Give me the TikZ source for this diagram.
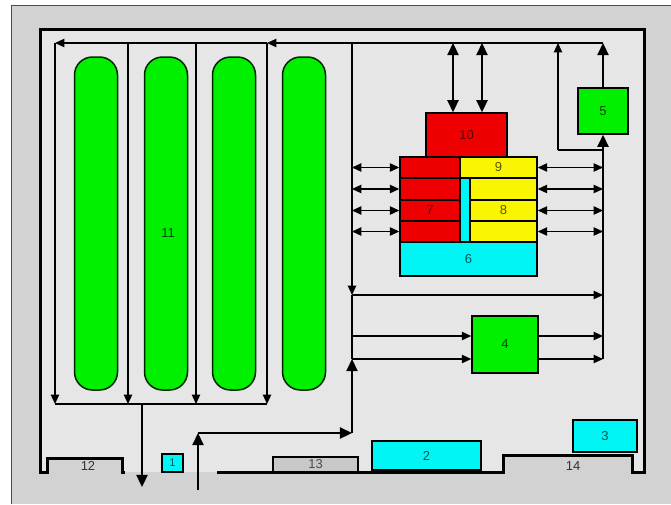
\documentclass[tikz,border=0pt]{standalone}
\usepackage{fontspec}
\setmainfont{Liberation Sans}
\usetikzlibrary{arrows.meta,positioning}

\definecolor{wallfill}{HTML}{E6E6E6}
\definecolor{outerfill}{HTML}{D2D2D2}
\definecolor{plantgreen}{HTML}{00F000}
\definecolor{plantred}{HTML}{EE0000}
\definecolor{plantyellow}{HTML}{FAF500}
\definecolor{plantcyan}{HTML}{00F5F5}
\definecolor{plantgrey}{HTML}{C8C8C8}

\begin{document}
\begin{tikzpicture}[x=1pt,y=-1pt,
    box/.style={draw, line width=1.5pt, inner sep=0pt, font=\fontsize{13}{15}\selectfont},
    pill/.style={draw=black!85!green, line width=1.5pt, fill=plantgreen, rounded corners=18pt, minimum width=43pt, minimum height=333pt, inner sep=0pt},
    lbl/.style={font=\fontsize{13}{15}\selectfont, text=black!80},
    arr/.style={-{Triangle[length=6pt 2.8,width=5pt 2.8]}, line width=1.2pt},
    dbl/.style={{Triangle[length=6pt 2.8,width=5pt 2.8]}-{Triangle[length=6pt 2.8,width=5pt 2.8]}, line width=1.2pt},
    thk/.style={line width=2.2pt},
    wall/.style={line width=3pt, line join=miter}
]
\useasboundingbox (0,0) rectangle (671,504);
\fill[outerfill] (11,5) rectangle (671,504);
\draw[line width=1pt, black!70] (11,504) -- (11,5) -- (671,5);
\fill[wallfill] (40,29) -- (644,29) -- (644,472) -- (632,472) -- (632,455) -- (503,455) -- (503,472)
    -- (122,472) -- (122,458) -- (47,458) -- (47,472) -- (40,472) -- cycle;
\draw[wall] (125,472) -- (122,472) -- (122,458) -- (47,458) -- (47,472) -- (40,472) -- (40,29)
    -- (644,29) -- (644,472) -- (632,472) -- (632,455) -- (503,455) -- (503,472) -- (217,472);

% tanks
\node[pill] (pill1) at (96,223.5) {};
\node[pill] (pill2) at (166,223.5) {};
\node[pill] (pill3) at (234,223.5) {};
\node[pill] (pill4) at (304,223.5) {};
\node[lbl, text=plantgreen!30!black] (lab11) at (168,233) {11};

% equipment
\node[box, fill=plantred, minimum width=81pt, minimum height=44pt, text=plantred!40!black] (ten) at (466.5,135) {10};
\node[box, fill=plantred, minimum width=60pt, minimum height=21pt] (red1) at (430,167.5) {};
\node[box, fill=plantred, minimum width=60pt, minimum height=22pt] (red2) at (430,189) {};
\node[box, fill=plantred, minimum width=60pt, minimum height=21pt, text=plantred!40!black] (red3) at (430,210.5) {7};
\node[box, fill=plantred, minimum width=60pt, minimum height=21pt] (red4) at (430,231.5) {};
\node[box, fill=plantyellow, minimum width=77pt, minimum height=21pt, text=plantyellow!35!black] (nine) at (498.5,167.5) {9};
\node[box, fill=plantcyan, minimum width=10pt, minimum height=64pt] (strip) at (465,210) {};
\node[box, fill=plantyellow, minimum width=67pt, minimum height=22pt] (yel2) at (503.5,189) {};
\node[box, fill=plantyellow, minimum width=67pt, minimum height=21pt, text=plantyellow!35!black] (yel3) at (503.5,210.5) {8};
\node[box, fill=plantyellow, minimum width=67pt, minimum height=21pt] (yel4) at (503.5,231.5) {};
\node[box, fill=plantcyan, minimum width=137pt, minimum height=34pt, text=plantcyan!35!black] (six) at (468.5,259) {6};
\node[box, fill=plantgreen, minimum width=50pt, minimum height=46pt, text=plantgreen!30!black] (five) at (603,111) {5};
\node[box, fill=plantgreen, minimum width=66pt, minimum height=57pt, text=plantgreen!30!black] (four) at (505,344.5) {4};
\node[box, fill=plantcyan, minimum width=64pt, minimum height=32pt, text=plantcyan!35!black] (three) at (605,436) {3};
\node[box, fill=plantcyan, minimum width=109pt, minimum height=29pt, text=plantcyan!35!black] (two) at (426.5,455.5) {2};
\node[box, fill=plantgrey, minimum width=85pt, minimum height=15pt, text=black!70] (thirteen) at (315.5,464.5) {13};
\node[box, fill=plantcyan, minimum width=21pt, minimum height=18pt, text=plantcyan!35!black, font=\fontsize{11}{12}\selectfont] (one) at (172.5,463) {1};
\node[lbl] (lab12) at (88,466) {12};
\node[lbl] (lab14) at (573,466) {14};

% flow lines
\coordinate (topR) at (603,43);
\coordinate (topM) at (267,43);
\coordinate (topL) at (55,43);
\coordinate (col2) at (128,43);
\coordinate (col3) at (196,43);
\coordinate (collL) at (55,404);
\coordinate (collR) at (267,404);
\coordinate (exitT) at (142,404);
\coordinate (exitB) at (142,487);
\coordinate (spineT) at (352,43);
\coordinate (spineM) at (352,295);
\coordinate (in4) at (352,336);
\coordinate (spineL) at (352,359);
\coordinate (spineB) at (352,433);
\coordinate (gateIn) at (198,490);
\coordinate (gateC) at (198,433);
\coordinate (riserB) at (603,359);
\coordinate (branch) at (603,150);
\coordinate (branchC) at (558,150);
\coordinate (branchT) at (558,43);
\coordinate (lift1) at (453,43);
\coordinate (lift2) at (482,43);

\draw[arr] (topR) -- (topM);
\draw[arr] (topM) -- (topL);
\draw[arr] (topL) -- (collL);
\draw[arr] (col2) -- (col2 |- collL);
\draw[arr] (col3) -- (col3 |- collL);
\draw[arr] (topM) -- (collR);
\draw[line width=1.2pt] (collL) -- (collR);
\draw[arr,thk] (exitT) -- (exitB);

\draw[arr] (spineT) -- (spineM);
\draw[line width=1.2pt] (spineM) -- (spineL);
\draw[arr,thk] (gateIn) -- (gateC);
\draw[arr,thk] (gateC) -- (spineB);
\draw[arr,thk] (spineB) -- (spineL);

\draw[arr] (spineM) -- (spineM -| riserB);
\draw[arr] (in4) -- (in4 -| four.west);
\draw[arr] (spineL) -- (spineL -| four.west);
\draw[arr] (four.east |- in4) -- (in4 -| riserB);
\draw[arr] (four.east |- spineL) -- (riserB);
\draw[arr,thk] (riserB) -- (five.south);
\draw[arr,thk] (five.north) -- (topR);
\draw[line width=1.2pt] (branch) -- (branchC);
\draw[arr] (branchC) -- (branchT);

\draw[dbl,thk] (lift1) -- (lift1 |- ten.north);
\draw[dbl,thk] (lift2) -- (lift2 |- ten.north);

\draw[dbl] (red1.west -| spineT) -- (red1.west);
\draw[dbl] (red2.west -| spineT) -- (red2.west);
\draw[dbl] (red3.west -| spineT) -- (red3.west);
\draw[dbl] (red4.west -| spineT) -- (red4.west);
\draw[dbl] (nine.east) -- (nine.east -| riserB);
\draw[dbl] (yel2.east) -- (yel2.east -| riserB);
\draw[dbl] (yel3.east) -- (yel3.east -| riserB);
\draw[dbl] (yel4.east) -- (yel4.east -| riserB);
\end{tikzpicture}
\end{document}
